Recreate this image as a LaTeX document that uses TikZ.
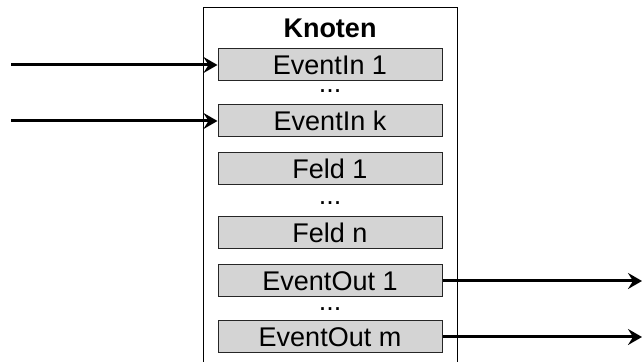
\documentclass[tikz,border=0pt]{standalone}
\usepackage{fontspec}
\setmainfont{Liberation Sans}
\usetikzlibrary{positioning, arrows.meta}

\tikzset{
  slot/.style={draw=black!85, fill=black!17, line width=0.5pt, minimum width=112pt,
    minimum height=16pt, inner sep=0pt, font=\fontsize{13.5}{15}\selectfont},
  gap/.style={inner sep=0pt, font=\fontsize{13.5}{15}\selectfont},
  signal/.style={-{Stealth[length=7pt, width=8pt, inset=2.5pt]}, line width=1.5pt}
}

\begin{document}
\begin{tikzpicture}[x=0.5pt, y=0.5pt, on grid]
    \useasboundingbox (0,0) rectangle (643,362);

    % OUTER BOX
    \draw[line width=0.5pt] (203,0) -- (203,354) -- (457,354) -- (457,0);
    \node[font=\fontsize{13.5}{15}\selectfont\bfseries] (title) at (330,334) {Knoten};

    % SLOTS
    \node[slot] (in1) at (330,297) {EventIn 1};
    \node[slot] (ink) [below=28pt of in1] {EventIn k};
    \node[slot] (f1) [below=23.75pt of ink] {Feld 1};
    \node[slot] (fn) [below=32.25pt of f1] {Feld n};
    \node[slot] (out1) [below=24pt of fn] {EventOut 1};
    \node[slot] (outm) [below=28pt of out1] {EventOut m};

    % DOTS
    \node[gap] (din) [below=13pt of in1] {...};
    \node[gap] (df) [below=17.25pt of f1] {...};
    \node[gap] (dout) [below=14pt of out1] {...};

    % SIGNALS
    \coordinate (src1) at (11,297);
    \coordinate (srck) at (11,241);
    \coordinate (dst1) at (642,81);
    \coordinate (dstm) at (642,25);
    \draw[signal] (src1) -- (in1.west);
    \draw[signal] (srck) -- (ink.west);
    \draw[signal] (out1.east) -- (dst1);
    \draw[signal] (outm.east) -- (dstm);
\end{tikzpicture}
\end{document}
